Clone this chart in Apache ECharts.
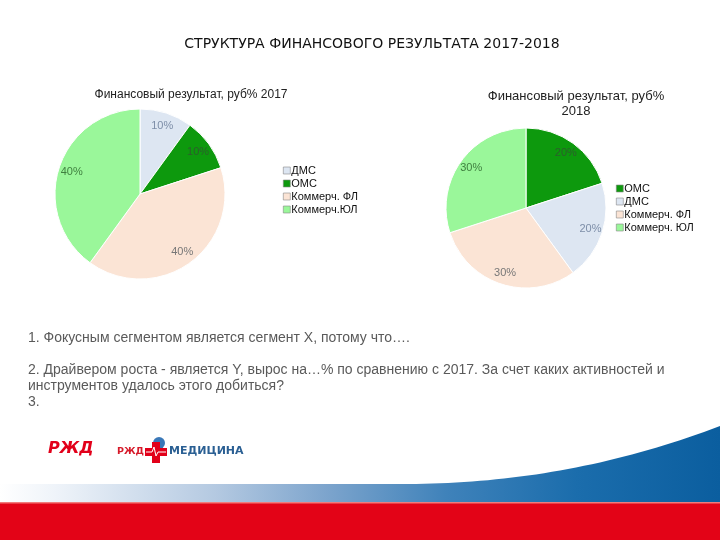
<!DOCTYPE html>
<html><head><meta charset="utf-8">
<script src="https://cdn.jsdelivr.net/npm/echarts@6/dist/echarts.min.js"></script>
<style>html,body{margin:0;padding:0;background:#fff}#c{width:720px;height:540px}</style>
</head><body><div id="c"></div>
<script>
// ---- data ----
const cats2017 = ['ДМС', 'ОМС', 'Коммерч. ФЛ', 'Коммерч.ЮЛ'];
const vals2017 = [10, 10, 40, 40];
const cats2018 = ['ОМС', 'ДМС', 'Коммерч. ФЛ', 'Коммерч. ЮЛ'];
const vals2018 = [20, 20, 30, 30];
const mainTitle = 'СТРУКТУРА ФИНАНСОВОГО РЕЗУЛЬТАТА 2017-2018';
const title2017 = 'Финансовый результат, руб% 2017';
const title2018 = 'Финансовый результат, руб%\n2018';
const notes = [
  '1. Фокусным сегментом является сегмент X, потому что….',
  '',
  '2. Драйвером роста - является Y, вырос на…% по сравнению с 2017. За счет каких активностей и',
  'инструментов удалось этого добиться?',
  '3.'
];

// ---- styles ----
const fill = {
  'ДМС': '#dde6f2', 'ОМС': '#0d990d', 'Коммерч. ФЛ': '#fbe4d5',
  'Коммерч.ЮЛ': '#9af79a', 'Коммерч. ЮЛ': '#9af79a'
};
const labelCol = {
  'ДМС': '#7d8ea8', 'ОМС': '#2c5e2c', 'Коммерч. ФЛ': '#777777',
  'Коммерч.ЮЛ': '#3f7f3f', 'Коммерч. ЮЛ': '#3f7f3f'
};

function pieData(cats, vals) {
  return cats.map((n, i) => ({ name: n, value: vals[i], itemStyle: { color: fill[n] } }));
}
function labelData(cats, vals) {
  return cats.map((n, i) => ({
    name: n, value: vals[i],
    itemStyle: { color: 'rgba(0,0,0,0)', borderWidth: 0 },
    label: { color: labelCol[n] }
  }));
}
function pieSeries(cats, vals, center, r) {
  return [{
    type: 'pie', center: center, radius: r, startAngle: 90, clockwise: true,
    data: pieData(cats, vals), label: { show: false }, labelLine: { show: false },
    itemStyle: { borderColor: '#ffffff', borderWidth: 1 },
    emphasis: { disabled: true }, animation: false
  }, {
    type: 'pie', center: center, radius: [r * 0.62, r], startAngle: 90, clockwise: true,
    data: labelData(cats, vals), silent: true, z: 5,
    label: { show: true, position: 'inside', formatter: '{c}%', fontSize: 11,
      fontFamily: 'Liberation Sans, Arial, sans-serif' },
    labelLine: { show: false }, emphasis: { disabled: true }, animation: false
  }];
}

// footer curve points (decoration)
const curve = [];
for (let i = 0; i <= 40; i++) {
  const t = i / 40;
  const x = 400 + (720 - 400) * t;
  const y = 484 - 58 * Math.pow(t, 2.1);
  curve.push([x, y]);
}
curve.push([720, 503], [400, 503]);

const bandGrad = new echarts.graphic.LinearGradient(0, 0, 720, 0, [
  { offset: 0, color: '#ffffff' }, { offset: 0.08, color: '#eef3f9' },
  { offset: 0.3, color: '#b4c9e1' }, { offset: 0.45, color: '#7ea5cd' },
  { offset: 0.62, color: '#3f82ba' }, { offset: 0.8, color: '#1b6dac' },
  { offset: 1, color: '#0b5e9f' }], true);

const chart = echarts.init(document.getElementById('c'));
chart.setOption({
  backgroundColor: '#ffffff',
  animation: false,
  title: [
    { text: mainTitle, left: 367, top: 32, textAlign: 'center',
      textStyle: { fontFamily: 'DejaVu Sans, sans-serif', fontSize: 14, fontWeight: 'normal', color: '#111' } },
    { text: title2017, left: 186, top: 84, textAlign: 'center',
      textStyle: { fontFamily: 'Liberation Sans, Arial, sans-serif', fontSize: 12, fontWeight: 'normal', color: '#222' } },
    { text: title2018, left: 571, top: 84, textAlign: 'center',
      textStyle: { fontFamily: 'Liberation Sans, Arial, sans-serif', fontSize: 13, fontWeight: 'normal', color: '#222', lineHeight: 15 } }
  ],
  legend: [
    { data: cats2017, orient: 'vertical', left: 278, top: 160, itemGap: 2,
      icon: 'rect', itemWidth: 7, itemHeight: 7, selectedMode: false,
      itemStyle: { borderColor: '#888', borderWidth: 0.6 },
      textStyle: { fontFamily: 'Liberation Sans, Arial, sans-serif', fontSize: 11, color: '#111', padding: [0, 0, 0, -4] } },
    { data: cats2018, orient: 'vertical', left: 611, top: 178, itemGap: 2,
      icon: 'rect', itemWidth: 7, itemHeight: 7, selectedMode: false,
      itemStyle: { borderColor: '#888', borderWidth: 0.6 },
      textStyle: { fontFamily: 'Liberation Sans, Arial, sans-serif', fontSize: 11, color: '#111', padding: [0, 0, 0, -4] } }
  ],
  series: [].concat(
    pieSeries(cats2017, vals2017, [140, 194], 85),
    pieSeries(cats2018, vals2018, [526, 208], 80)
  ),
  graphic: [
    { type: 'text', left: 28, top: 330,
      style: { text: notes.join('\n'), fontFamily: 'Liberation Sans, Arial, sans-serif', fontSize: 14,
        fill: '#5a5a5a', lineHeight: 16 } },
    // footer band gradient
    { type: 'rect', shape: { x: 0, y: 484, width: 720, height: 19 }, style: { fill: bandGrad } },
    { type: 'polygon', shape: { points: curve }, style: { fill: bandGrad } },
    { type: 'rect', shape: { x: 0, y: 503, width: 720, height: 37 }, style: { fill: '#e30317' } },
    { type: 'rect', shape: { x: 0, y: 502, width: 720, height: 1.5 }, style: { fill: '#f27b7b' } },
    // logos
    { type: 'text', left: 48, top: 441,
      style: { text: 'РЖД', fontFamily: 'DejaVu Sans, sans-serif', fontSize: 16, fontWeight: 'bold', fontStyle: 'italic', fill: '#e2001a' } },
    { type: 'text', left: 117, top: 447,
      style: { text: 'РЖД', fontFamily: 'DejaVu Sans, sans-serif', fontSize: 9.5, fontWeight: 'bold', fill: '#d61a2a' } },
    { type: 'circle', shape: { cx: 159, cy: 443, r: 6 }, style: { fill: '#3a78b8' } },
    { type: 'rect', shape: { x: 152, y: 442, width: 8, height: 21 }, style: { fill: '#e2001a' } },
    { type: 'rect', shape: { x: 145, y: 448, width: 22, height: 8 }, style: { fill: '#e2001a' } },
    { type: 'polyline', shape: { points: [[146, 452], [152, 452], [154, 447], [156, 456], [158, 452], [166, 452]] },
      style: { stroke: '#ffffff', lineWidth: 1, fill: null } },
    { type: 'text', left: 169, top: 446,
      style: { text: 'МЕДИЦИНА', fontFamily: 'DejaVu Sans, sans-serif', fontSize: 11, fontWeight: 'bold', fill: '#2a5f93' } }
  ]
});
</script>
</body></html>
